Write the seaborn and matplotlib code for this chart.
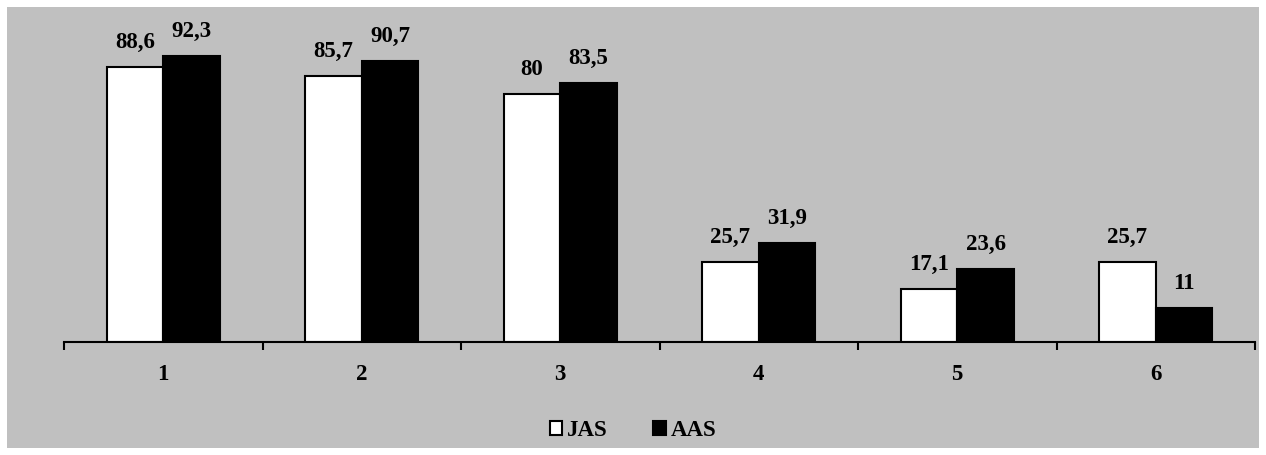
import pandas as pd
import seaborn as sns
import matplotlib.pyplot as plt
from matplotlib.patches import Rectangle, Patch

categories = ['1', '2', '3', '4', '5', '6']
jas = [88.6, 85.7, 80, 25.7, 17.1, 25.7]
aas = [92.3, 90.7, 83.5, 31.9, 23.6, 11]
series = ['JAS', 'AAS']

df = pd.DataFrame({'cat': categories * 2,
                   'value': jas + aas,
                   'group': ['JAS'] * len(jas) + ['AAS'] * len(aas)})

sns.set_style('white')
plt.rcParams['font.family'] = ['Liberation Serif', 'DejaVu Serif']
plt.rcParams['font.weight'] = 'bold'
plt.rcParams['text.color'] = 'black'
plt.rcParams['xtick.color'] = 'black'

fig = plt.figure(figsize=(12.66, 4.55), dpi=100)
fig.patch.set_facecolor('white')
# gray panel behind everything
fig.patches.append(Rectangle((7 / 1266, 7 / 455), 1252 / 1266, 441 / 455,
                             transform=fig.transFigure, facecolor='#C0C0C0',
                             edgecolor='none', zorder=-10))

ax = fig.add_axes([64 / 1266, 113 / 455, 1191 / 1266, 310 / 455])
ax.set_facecolor('none')

sns.barplot(data=df, x='cat', y='value', hue='group', hue_order=series,
            palette=['white', 'black'], edgecolor='black', linewidth=1.5,
            width=0.57, saturation=1, ax=ax, legend=False)

fs = 16.5
for cont in ax.containers:
    ax.bar_label(cont, labels=[f'{v:g}'.replace('.', ',') for v in cont.datavalues],
                 padding=10, fontsize=fs, fontweight='bold', color='black')

ax.set_xlim(-0.5, 5.5)
ax.set_ylim(0, 100)
ax.set_xlabel('')
ax.set_ylabel('')
ax.set_yticks([])
for s in ['top', 'right', 'left']:
    ax.spines[s].set_visible(False)
ax.spines['bottom'].set_color('black')
ax.spines['bottom'].set_linewidth(1.5)

ax.set_xticks(range(len(categories)))
ax.set_xticklabels(categories, fontsize=fs, fontweight='bold', color='black')
ax.set_xticks([i - 0.5 for i in range(len(categories) + 1)], minor=True)
ax.tick_params(axis='x', which='major', length=0, pad=16)
ax.tick_params(axis='x', which='minor', length=6, width=1.5, color='black',
               direction='out', bottom=True)

handles = [Patch(facecolor='white', edgecolor='black', linewidth=1.5),
           Patch(facecolor='black', edgecolor='black', linewidth=1.5)]
fig.legend(handles, series, loc='center', bbox_to_anchor=(0.5, 24 / 455), ncol=2,
           frameon=False, handlelength=0.55, handleheight=0.55, handletextpad=0.2,
           columnspacing=2.0, prop={'size': fs, 'weight': 'bold'})

fig.savefig('out.png', dpi=100, facecolor=fig.get_facecolor())
